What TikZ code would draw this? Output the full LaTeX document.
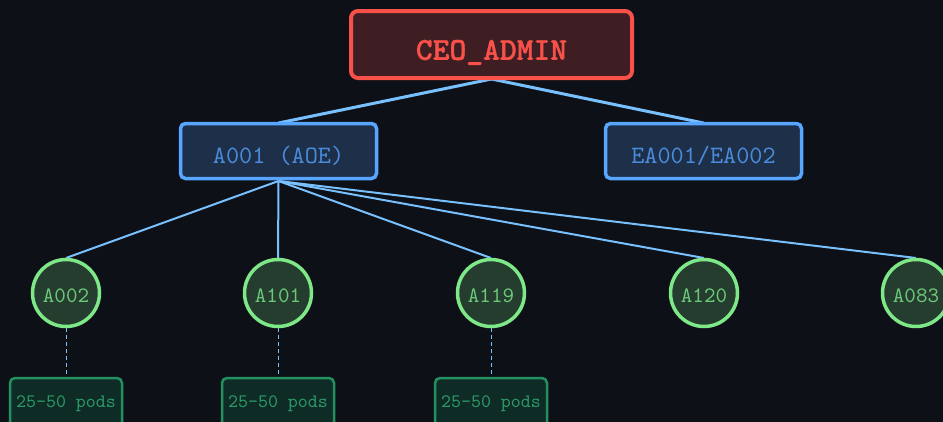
\documentclass[tikz,border=0pt]{standalone}
\usepackage{fontspec}
\newfontfamily\monoreg{lmmono10-regular.otf}
\newfontfamily\monobold{lmmonolt10-bold.otf}[FakeBold=1.2]
\definecolor{bg}{HTML}{0D1017}
\definecolor{redS}{HTML}{F85149}
\definecolor{redF}{HTML}{3E1E23}
\definecolor{blueS}{HTML}{58A6FF}
\definecolor{blueF}{HTML}{1D2F49}
\definecolor{blueT}{HTML}{4A8CDB}
\definecolor{conn}{HTML}{79C0FF}
\definecolor{greenS}{HTML}{7EE787}
\definecolor{greenF}{HTML}{243D2E}
\definecolor{greenT}{HTML}{6CC979}
\definecolor{podS}{HTML}{23915F}
\definecolor{podF}{HTML}{0F2B26}
\definecolor{podT}{HTML}{2A9A68}
\tikzset{
  ceobox/.style={draw=redS, fill=redF, line width=4pt, rounded corners=7pt, minimum width=281pt, minimum height=67pt, inner sep=0pt, text=redS, font=\monobold\fontsize{32}{34}\selectfont, text height=30.6pt, text depth=0pt},
  midbox/.style={draw=blueS, fill=blueF, line width=3.5pt, rounded corners=5pt, minimum width=196pt, minimum height=55pt, inner sep=0pt, text=blueT, font=\monoreg\fontsize{25}{27}\selectfont, text height=25pt, text depth=0pt},
  agent/.style={circle, draw=greenS, fill=greenF, line width=3.5pt, minimum size=67pt, inner sep=0pt, text=greenT, font=\monoreg\fontsize{22}{24}\selectfont, text height=19.4pt, text depth=0pt},
  podbox/.style={draw=podS, fill=podF, line width=2.5pt, rounded corners=5pt, minimum width=112pt, minimum height=50pt, inner sep=0pt, text=podT, font=\monoreg\fontsize{19}{21}\selectfont, text height=8pt, text depth=0pt},
  thickconn/.style={draw=conn, line width=3pt},
  thinconn/.style={draw=conn, line width=2pt},
  dashconn/.style={draw=conn, line width=1pt, dash pattern=on 4pt off 3pt},
}
\begin{document}
\begin{tikzpicture}[x=1pt,y=-1pt]
\useasboundingbox (0,0) rectangle (943,421);
\begin{scope}
\clip (0,0) rectangle (943,421);
\fill[bg] (-5,-5) rectangle (950,430);
\coordinate (ceoB) at (491.5,79);
\coordinate (a001T) at (278.5,123);
\coordinate (eaT) at (703.5,123);
\coordinate (a001B) at (278.5,181);
\draw[thickconn] (ceoB) -- (a001T);
\draw[thickconn] (ceoB) -- (eaT);
\foreach \x/\n in {66/a002,278/a101,491/a119,704/a120,916/a083}{
  \coordinate (\n T) at (\x,258);
  \draw[thinconn] (a001B) -- (\n T);
}
\foreach \x/\n in {66/1,278/2,491/3}{
  \coordinate (c\n) at (\x,328);
  \coordinate (d\n) at (\x,378);
  \draw[dashconn] (c\n) -- (d\n);
}
\node[ceobox] (ceo) at (491.5,44.5) {CEO\_ADMIN};
\node[midbox] (a001) at (278.5,151) {A001 (AOE)};
\node[midbox] (ea) at (703.5,151) {EA001/EA002};
\node[agent] (a002) at (66,293) {A002};
\node[agent] (a101) at (278,293) {A101};
\node[agent] (a119) at (491,293) {A119};
\node[agent] (a120) at (704,293) {A120};
\node[agent] (a083) at (916,293) {A083};
\node[podbox] (p1) at (66,403) {25-50 pods};
\node[podbox] (p2) at (278,403) {25-50 pods};
\node[podbox] (p3) at (491,403) {25-50 pods};
\end{scope}
\end{tikzpicture}
\end{document}
